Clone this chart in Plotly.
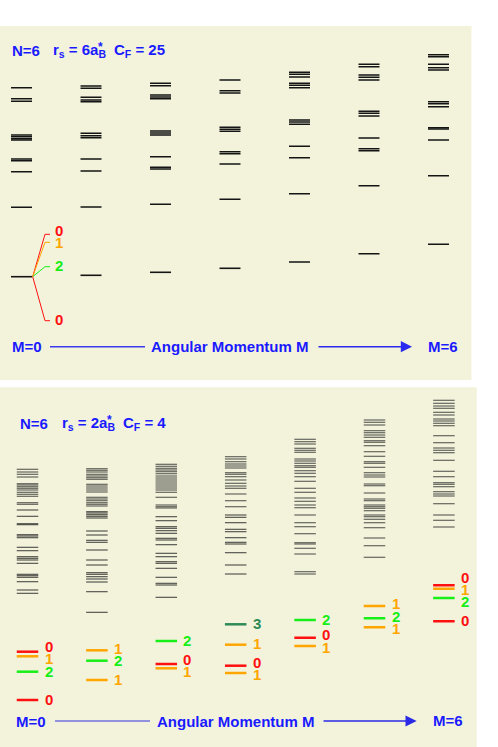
import plotly.graph_objects as go

# angular momentum M of each column
M = [0, 1, 2, 3, 4, 5, 6]

# r_s = 6, C_F = 25 : level energies (arb. units) for M = 0..6
levels_cf25 = [
    [292.3, 281.3, 278.7, 245.0, 243.3, 241.3, 240.0, 221.0, 219.3, 208.3, 172.7, 103.3],
    [294.0, 291.7, 282.7, 280.0, 278.3, 246.7, 244.3, 242.3, 221.0, 209.0, 173.0, 104.7],
    [296.7, 294.3, 285.0, 283.0, 281.3, 249.0, 247.0, 245.0, 223.3, 212.7, 211.0, 175.7, 107.7],
    [300.0, 289.3, 287.0, 252.7, 250.7, 248.7, 228.3, 226.3, 216.0, 180.7, 111.7],
    [307.7, 305.7, 303.0, 296.7, 294.7, 292.3, 260.0, 258.0, 255.7, 233.7, 222.3, 186.3, 118.0],
    [315.7, 313.3, 305.0, 302.7, 300.0, 268.7, 266.7, 264.0, 242.0, 231.3, 229.3, 194.3, 126.3],
    [325.3, 323.3, 315.7, 312.3, 310.0, 278.3, 276.3, 273.3, 252.3, 251.0, 240.0, 204.3, 135.7],
]

# splitting of the M=0 ground level (spin labels)
split_energies_cf25 = [145.7, 137.7, 113.3, 59.3]
split_spins_cf25 = [0, 1, 2, 0]

# r_s = 2, C_F = 4 : upper (unlabelled) levels
levels_cf4 = [
    [277.7, 275.0, 272.7, 270.0, 263.3, 262.0, 260.3, 258.7, 257.0, 254.7, 252.7, 250.7, 244.3,
     242.7, 237.0, 230.7, 223.3, 222.3, 212.3, 211.0, 209.3, 199.7, 196.3, 190.3, 188.7, 187.0,
     183.7, 172.7, 171.3, 169.7, 165.3, 157.0, 153.7],
    [278.3, 276.7, 275.0, 272.7, 271.0, 269.3, 267.7, 262.7, 261.0, 259.0, 257.0, 255.0, 249.7,
     248.0, 246.3, 244.3, 242.7, 241.0, 235.3, 234.0, 232.3, 230.7, 229.0, 216.0, 212.0, 206.7,
     204.7, 197.0, 187.0, 182.0, 174.3, 172.7, 170.3, 168.0, 165.0, 155.3, 134.7],
    [282.7, 280.7, 278.7, 277.0, 275.3, 273.3, 271.0, 269.0, 267.0, 265.0, 263.0, 261.0, 259.0,
     257.0, 254.7, 249.7, 242.0, 240.3, 239.0, 230.3, 226.3, 220.3, 218.7, 216.3, 213.7, 208.7,
     207.0, 202.3, 193.7, 190.3, 185.3, 183.7, 178.7, 169.7, 163.7, 162.0, 149.7],
    [290.3, 288.0, 285.3, 283.0, 281.0, 279.0, 274.3, 272.7, 270.3, 267.0, 263.7, 261.0, 258.7,
     253.0, 246.3, 240.3, 232.0, 229.7, 224.3, 217.7, 215.3, 209.3, 204.7, 203.0, 194.3, 182.0,
     173.0],
    [307.7, 305.3, 303.0, 298.7, 296.7, 294.7, 288.0, 286.0, 283.7, 281.3, 279.7, 276.3, 273.7,
     270.3, 265.7, 258.7, 254.7, 249.0, 245.7, 242.0, 239.3, 232.0, 224.3, 220.3, 213.3, 204.3,
     203.0, 198.7, 193.0, 175.3, 173.0],
    [327.0, 324.7, 322.0, 316.3, 314.3, 312.0, 309.7, 306.3, 304.7, 301.3, 295.3, 290.7, 285.3,
     283.7, 279.7, 274.3, 272.0, 270.0, 263.0, 261.3, 254.0, 248.0, 246.3, 242.0, 240.3, 238.7,
     236.3, 232.0, 230.3, 227.7, 224.3, 219.3, 209.0, 201.3, 189.7],
    [346.7, 343.7, 341.0, 338.7, 334.7, 332.0, 328.0, 326.0, 323.7, 321.3, 311.3, 304.3, 299.0,
     296.7, 294.3, 286.7, 275.7, 270.3, 264.3, 262.7, 260.3, 255.3, 253.0, 251.0, 243.3, 232.0,
     226.7, 220.0],
]

# r_s = 2, C_F = 4 : lowest levels with their spin labels
low_energies_cf4 = [
    [95.3, 90.7, 75.3, 47.0],
    [96.7, 86.3, 67.0],
    [106.0, 83.0, 78.7],
    [122.7, 102.3, 81.3, 74.0],
    [127.0, 109.3, 101.0],
    [141.0, 128.7, 119.7],
    [161.7, 158.3, 149.0, 125.7],
]
low_spins_cf4 = [
    [0, 1, 2, 0],
    [1, 2, 1],
    [2, 0, 1],
    [3, 1, 0, 1],
    [2, 0, 1],
    [1, 2, 1],
    [0, 1, 2, 0],
]

SPIN_COLORS = {0: "#ff1010", 1: "#ffa500", 2: "#18ee18", 3: "#2e8b57"}
BLUE = "#1a1aff"
BG = "#f3f3dc"
W, H = 498, 747
FONT = "Liberation Sans"


def segs(cols, energies, hw):
    xs, ys = [], []
    for m, col in zip(cols, energies):
        for e in col:
            xs += [m - hw, m + hw, None]
            ys += [e, e, None]
    return xs, ys


def spread(vals, gap, n_iter=200):
    order = sorted(range(len(vals)), key=lambda i: -vals[i])
    pos = [vals[i] for i in order]
    for _ in range(n_iter):
        for k in range(len(pos) - 1):
            d = pos[k] - pos[k + 1]
            if d < gap:
                push = (gap - d) / 2
                pos[k] += push
                pos[k + 1] -= push
    out = [0] * len(vals)
    for k, i in enumerate(order):
        out[i] = pos[k]
    return out


fig = go.Figure()

# ---- top panel (C_F = 25)
hw1 = 0.151
x, y = segs(M, levels_cf25, hw1)
fig.add_trace(go.Scatter(x=x, y=y, mode="lines", line=dict(color="#141414", width=1.6),
                         xaxis="x", yaxis="y", showlegend=False, hoverinfo="skip"))

ground = min(levels_cf25[0])
annotations = []
for e, s in zip(split_energies_cf25, split_spins_cf25):
    fig.add_trace(go.Scatter(x=[M[0] + hw1 + 0.01, M[0] + 0.338, M[0] + 0.41], y=[ground, e, e],
                             mode="lines", line=dict(color=SPIN_COLORS[s], width=1),
                             xaxis="x", yaxis="y", showlegend=False, hoverinfo="skip"))
for e, s in zip(spread(split_energies_cf25, 12), split_spins_cf25):
    annotations.append(dict(x=M[0] + 0.535, y=e + 1.5, xref="x", yref="y", text=str(s),
                            showarrow=False, font=dict(color=SPIN_COLORS[s], size=15,
                                                       family=FONT, weight="bold")))

# ---- bottom panel (C_F = 4)
hw2 = 0.155
x, y = segs(M, levels_cf4, hw2)
fig.add_trace(go.Scatter(x=x, y=y, mode="lines", line=dict(color="rgba(30,30,30,0.8)", width=1.1),
                         xaxis="x2", yaxis="y2", showlegend=False, hoverinfo="skip"))

for s in sorted(SPIN_COLORS):
    xs, ys = [], []
    for m, es, ss in zip(M, low_energies_cf4, low_spins_cf4):
        for e, sp in zip(es, ss):
            if sp == s:
                xs += [m - hw2, m + hw2, None]
                ys += [e, e, None]
    fig.add_trace(go.Scatter(x=xs, y=ys, mode="lines", line=dict(color=SPIN_COLORS[s], width=2.5),
                             xaxis="x2", yaxis="y2", showlegend=False, hoverinfo="skip"))

for m, es, ss in zip(M, low_energies_cf4, low_spins_cf4):
    for e, s in zip(spread(es, 12.3), ss):
        annotations.append(dict(x=m + 0.305, y=e + 1, xref="x2", yref="y2", text=str(s),
                                showarrow=False, font=dict(color=SPIN_COLORS[s], size=15,
                                                           family=FONT, weight="bold")))

# ---- titles and M axis labels
bold15 = dict(color=BLUE, size=15, family=FONT, weight="bold")


def title(parts, star, yc):
    for txt, x0 in parts:
        annotations.append(dict(x=x0 / W, y=1 - yc / H, xref="paper", yref="paper", text=txt,
                                xanchor="left", yanchor="middle", showarrow=False, font=bold15))
    annotations.append(dict(x=star[0] / W, y=1 - star[1] / H, xref="paper", yref="paper", text="*",
                            xanchor="center", yanchor="middle", showarrow=False,
                            font=dict(color=BLUE, size=12, family=FONT, weight="bold")))


title([("N=6", 10), ("r<sub>s</sub> = 6a<sub>B</sub>", 51), ("C<sub>F</sub> = 25", 112.3)],
      (100, 47), 50.7)
title([("N=6", 17.7), ("r<sub>s</sub> = 2a<sub>B</sub>", 60), ("C<sub>F</sub> = 4", 121)],
      (109, 420), 423.7)

shapes = []
for xr, yr, ye, m0, m6, l0, l1, r0, r1, lc, rc in [
    ("x", "y", 33.3, 0.079, 6.058, 0.41, 1.777, 4.252, 5.619, "#3b3bee", "#2a2aee"),
    ("x2", "y2", 26.0, 0.053, 6.052, 0.396, 1.765, 4.244, 5.608, "#7070e0", "#2a2ae6"),
]:
    annotations.append(dict(x=m0, y=ye, xref=xr, yref=yr, text="M=0", showarrow=False, font=bold15))
    annotations.append(dict(x=m6, y=ye + 0.5, xref=xr, yref=yr, text="M=6", showarrow=False, font=bold15))
    annotations.append(dict(x=3.0, y=ye, xref=xr, yref=yr, text="Angular Momentum M",
                            showarrow=False, font=bold15))
    shapes.append(dict(type="line", xref=xr, yref=yr, x0=l0, x1=l1, y0=ye, y1=ye,
                       line=dict(color=lc, width=1.6)))
    annotations.append(dict(x=r1, y=ye, ax=r0, ay=ye, xref=xr, yref=yr, axref=xr, ayref=yr,
                            text="", showarrow=True, arrowhead=2, arrowsize=1.4, arrowwidth=1.6,
                            arrowcolor=rc, standoff=0, startstandoff=0))

fig.update_layout(
    width=W, height=H,
    margin=dict(l=0, r=0, t=0, b=0),
    paper_bgcolor="white", plot_bgcolor=BG,
    xaxis=dict(domain=[0, 471.5 / W], range=[-21.5 / 69.5, 450 / 69.5], visible=False, anchor="y"),
    yaxis=dict(domain=[1 - 380 / H, 1 - 26 / H], range=[0, 354], visible=False, anchor="x"),
    xaxis2=dict(domain=[0, 476.7 / W], range=[-27.5 / 69.4, 449.2 / 69.4], visible=False, anchor="y2"),
    yaxis2=dict(domain=[0, 1 - 387.3 / H], range=[0, 359.7], visible=False, anchor="x2"),
    annotations=annotations,
    shapes=shapes,
)

# the page body has a default 8px margin; remove it so the figure fills the window
fig.write_html("out.html", config={"displayModeBar": False},
               post_script="document.body.style.margin='0';")
